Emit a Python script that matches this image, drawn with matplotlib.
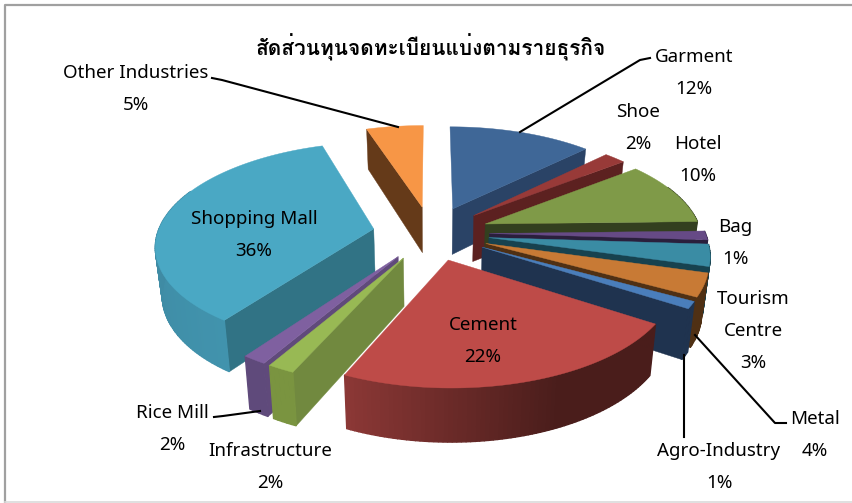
import numpy as np
import matplotlib
matplotlib.use('Agg')
import matplotlib.pyplot as plt
from matplotlib import font_manager, ft2font
from matplotlib.colors import to_rgb

names = ['Garment', 'Shoe', 'Hotel', 'Bag', 'Tourism\nCentre', 'Metal', 'Agro-Industry',
         'Cement', 'Infrastructure', 'Rice Mill', 'Shopping Mall', 'Other Industries']
# percentages as printed on the chart
printed = [12, 2, 10, 1, 3, 4, 1, 22, 2, 2, 36, 5]
# slice sizes read from the drawn wedges, the printed numbers are rounded
shares = [12.6, 1.9, 10.1, 1.4, 3.4, 3.6, 1.1, 22.6, 1.7, 1.5, 35.1, 5.0]
title = 'สัดส่วนทุนจดทะเบียนแบ่งตามรายธุรกิจ'

top_colors = ['#3F6797', '#983A38', '#7F9A48', '#664A86', '#3A8CA4', '#C87A35',
              '#4A7EBB', '#BE4B48', '#98B954', '#7F60A0', '#4AA8C4', '#F79646']
face_colors = ['#2A4366', '#5C2120', '#333F1F', '#2A1F3C', '#17424F', '#4F3014',
               '#1F334F', '#4F1F1F', '#71893F', '#604A7B', '#317385', '#653A19']
wall_left = ['#2A4366', '#5C2120', '#333F1F', '#2A1F3C', '#17424F', '#4F3014',
             '#1F334F', '#8C3836', '#7A9440', '#5F4A7B', '#4193AD', '#653A19']
wall_right = ['#2A4366', '#5C2120', '#333F1F', '#2A1F3C', '#17424F', '#4F3014',
              '#1F334F', '#4A1D1B', '#7A9440', '#5F4A7B', '#3B7F96', '#653A19']

# back to front
draw_order = [11, 0, 1, 2, 3, 4, 5, 6, 10, 9, 8, 7]

CX, CY = 431, 233
RX, RY = 216, 100.5
PERSP = 0.146
EXPLODE = 0.27
DEPTH = 47


def project(x, y, low=False):
    s = 1 / (1 + PERSP * y)
    px = CX + RX * x * s
    py = CY - RY * y * s
    if low:
        px = CX + (px - CX) * 0.975
        py = py + DEPTH * (1 - 0.12 * y)
    return px, py


def blend(a, b, t):
    a, b = np.array(to_rgb(a)), np.array(to_rgb(b))
    return tuple(a + (b - a) * t)


# look for any installed font that has Thai letters
thai_families = []
for f in font_manager.fontManager.ttflist:
    try:
        if 0x0E2A in ft2font.FT2Font(f.fname).get_charmap() and f.name not in thai_families:
            thai_families.append(f.name)
    except Exception:
        pass

plt.rcParams['font.family'] = ['Noto Sans'] + thai_families + ['DejaVu Sans']
fig = plt.figure(figsize=(8.53, 5.03), dpi=100)
ax = fig.add_axes([0, 0, 1, 1])
ax.set_xlim(0, 853)
ax.set_ylim(503, 0)
ax.axis('off')

edges = np.concatenate([[0], np.cumsum(shares)]) / sum(shares) * 2 * np.pi

for n, i in enumerate(draw_order):
    z = 2 + n * 0.01
    a0, a1 = edges[i], edges[i + 1]
    mid = (a0 + a1) / 2
    ox, oy = EXPLODE * np.sin(mid), EXPLODE * np.cos(mid)
    th = np.linspace(a0, a1, max(3, int(np.degrees(a1 - a0))))
    ex, ey = ox + np.sin(th), oy + np.cos(th)

    # radial faces
    for a, visible in ((a0, a0 > np.pi), (a1, a1 < np.pi)):
        if visible:
            fx, fy = ox + np.sin(a), oy + np.cos(a)
            p1 = project(ox, oy)
            p2 = project(fx, fy)
            p3 = project(fx, fy, True)
            p4 = project(ox, oy, True)
            ax.fill([p1[0], p2[0], p3[0], p4[0]], [p1[1], p2[1], p3[1], p4[1]],
                    color=face_colors[i], lw=0.3, zorder=z)

    # outer wall, cut in small pieces for the shading
    for k in range(len(th) - 1):
        if np.cos((th[k] + th[k + 1]) / 2) > 0.4:
            continue
        p1 = project(ex[k], ey[k])
        p2 = project(ex[k + 1], ey[k + 1])
        p3 = project(ex[k + 1], ey[k + 1], True)
        p4 = project(ex[k], ey[k], True)
        t = np.clip((p1[0] - 345) / 215, 0, 1) if i == 7 else k / max(1, len(th) - 2)
        ax.fill([p1[0], p2[0], p3[0], p4[0]], [p1[1], p2[1], p3[1], p4[1]],
                color=blend(wall_left[i], wall_right[i], t), lw=1.0, zorder=z)

    # top
    tx, ty = project(np.r_[ox, ex], np.r_[oy, ey])
    ax.fill(tx, ty, color=top_colors[i], lw=0.3, zorder=z + 0.001)

# leader lines
leaders = [([650, 640, 520], [58, 60, 132]),
           ([212, 222, 398], [78, 80, 127]),
           ([786, 775, 695], [423, 423, 335]),
           ([684, 684], [355, 437]),
           ([214, 223, 260], [417, 416, 411])]
for lx, ly in leaders:
    ax.plot(lx, ly, color='black', lw=1.5, zorder=5)

label_x = [694, 638, 698, 735, 753, 815, 719, 483, 270, 172, 254, 136]
label_y = [57, 112, 144, 227, 299, 419, 451, 325, 451, 413, 219, 73]
for i, name in enumerate(names):
    lines = name.split('\n') + [str(printed[i]) + '%']
    for j, line in enumerate(lines):
        ax.text(label_x[i], label_y[i] + 32 * j, line, ha='center', va='center',
                fontsize=13.5, color='black', zorder=6)

ax.text(431, 47, title, ha='center', va='center', fontsize=15, fontweight='bold', zorder=6)

# chart frame, there is no line on the right
ax.plot([853, 5, 5], [5, 5, 501.5], color='#A0A0A0', lw=1.6, zorder=1)
ax.plot([5, 853], [501.5, 501.5], color='#DADADA', lw=1.2, zorder=1)

fig.savefig('out.png', dpi=100)
